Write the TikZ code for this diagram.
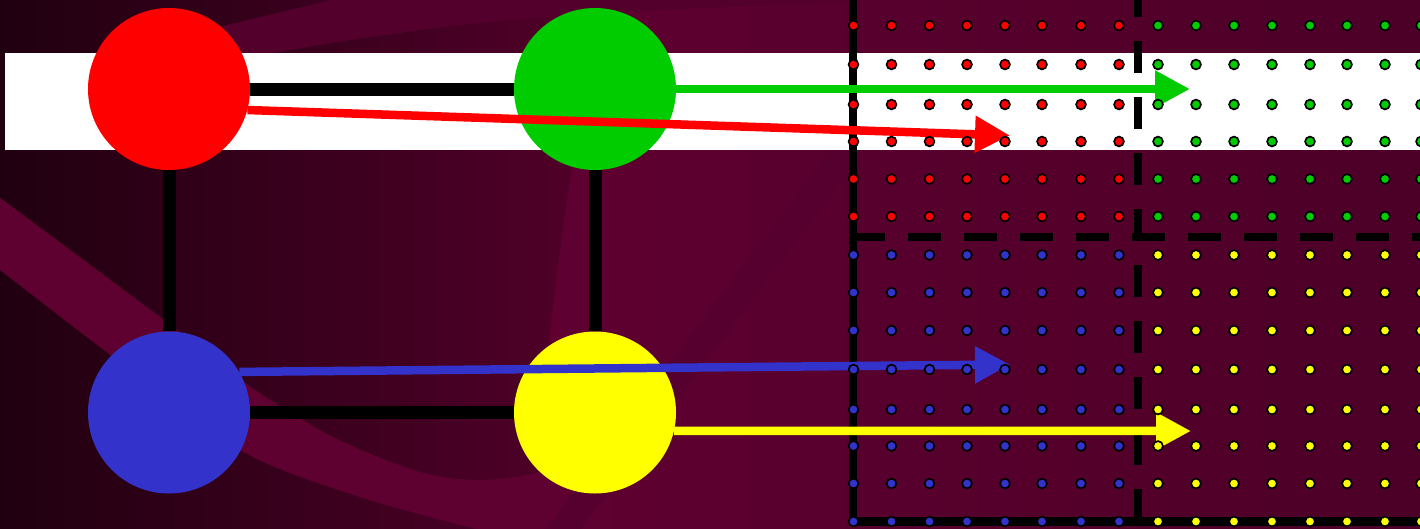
\documentclass[tikz,border=0pt]{standalone}
\usetikzlibrary{arrows.meta}
\definecolor{cred}{HTML}{FF0000}
\definecolor{cgreen}{HTML}{00CC00}
\definecolor{cblue}{HTML}{3333CC}
\definecolor{cyellow}{HTML}{FFFF00}
\definecolor{bgA}{HTML}{200010}
\definecolor{bgB}{HTML}{520029}
\definecolor{bgL}{HTML}{5F0031}
\definecolor{bgR}{HTML}{4C0027}
\definecolor{bandB}{HTML}{5E0030}
\definecolor{bandT}{HTML}{54002D}
\definecolor{bandD}{HTML}{560030}
\tikzset{
  ball/.style={circle, minimum size=162pt, inner sep=0pt, draw=none},
  edge/.style={line width=13pt, black},
  arr/.style={line width=8.5pt, -{Triangle[length=35pt,width=35pt]}},
  gridline/.style={line width=8.5pt, black},
  gdot/.style={draw=black, line width=1.7pt},
}
\begin{document}
\begin{tikzpicture}[x=1pt,y=-1pt]
\useasboundingbox (0,0) rectangle (1420,528);
% background
\shade[left color=bgA, right color=bgB] (-2,-2) rectangle (600,530);
\shade[left color=bgL, right color=bgR] (600,-2) -- (1422,-2) -- (1422,530) -- (535,530) .. controls (545,330) and (565,200) .. (600,-2) -- cycle;
% top-left light band
\fill[bandT] (150,56) -- (219,27) -- (340,-2) -- (860,-2) -- (845,3) .. controls (650,8) and (477,20) .. (400,33) .. controls (330,42) and (290,50) .. (258,56) -- cycle;
% lower light band
\fill[bandB] plot[smooth] coordinates {(-5,194) (160,317) (245,383) (333,437) (420,472) (480,480) (540,472) (610,445)} -- (610,545) -- plot[smooth] coordinates {(480,530) (360,497) (240,450) (100,347) (-5,266)} -- cycle;
% darker diagonal band
\draw[bandD, line width=28pt] (870,120) -- (540,560);
% white strip
\fill[white] (5,53) rectangle (1425,149.5);
% nodes
\node[ball, fill=cred] (red) at (169,89) {};
\node[ball, fill=cgreen] (green) at (595,89) {};
\node[ball, fill=cblue] (blue) at (169,412.5) {};
\node[ball, fill=cyellow] (yellow) at (595,412.5) {};
\draw[edge] (red) -- (green);
\draw[edge] (red) -- (blue);
\draw[edge] (green) -- (yellow);
\draw[edge] (blue) -- (yellow);
% grid lines
\draw[gridline, line join=miter] (853,-5) -- (853,521.5) -- (1425,521.5);
\draw[gridline, dash pattern=on 33pt off 23pt] (852,237) -- (1425,237);
\draw[gridline, line width=8pt, dash pattern=on 32pt off 24pt, dash phase=15pt] (1138,0) -- (1138,521);
% arrows
\coordinate (gtip) at (1190,89);
\coordinate (rtip) at (1010,135.5);
\coordinate (btip) at (1010,364.5);
\coordinate (ytip) at (1191,431);
\draw[arr, cgreen] (green.east) -- (gtip);
\draw[arr, cred] (red.-15) -- (rtip);
\draw[arr, cblue] (blue.30) -- (btip);
\draw[arr, cyellow] (yellow.-13) -- (ytip);
% dots
\foreach \y in {25.5,64.5,104.5,141.5,179,216.5}{
  \foreach \x in {853.5,891.5,929.5,967,1005,1042,1081,1119}{
    \filldraw[gdot, fill=cred] (\x,\y) circle[radius=4.9pt];}
  \foreach \x in {1158,1196,1234,1272,1310,1347,1385,1421}{
    \filldraw[gdot, fill=cgreen] (\x,\y) circle[radius=4.9pt];}
}
\foreach \y in {255,292.5,330.5,369.5,409.5,446,483.5,521.5}{
  \foreach \x in {853.5,891.5,929.5,967,1005,1042,1081,1119}{
    \filldraw[gdot, fill=cblue] (\x,\y) circle[radius=4.9pt];}
  \foreach \x in {1158,1196,1234,1272,1310,1347,1385,1421}{
    \filldraw[gdot, fill=cyellow] (\x,\y) circle[radius=4.9pt];}
}
\end{tikzpicture}
\end{document}
